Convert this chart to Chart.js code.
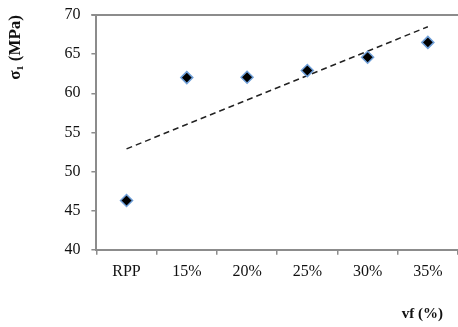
<!DOCTYPE html>
<html>
<head>
<meta charset="utf-8">
<script src="https://cdn.jsdelivr.net/npm/chart.js@4.4.1/dist/chart.umd.min.js"></script>
<style>
    html, body { margin: 0; padding: 0; background: #ffffff; }
    #wrap { width: 458px; height: 327px; }
</style>
</head>
<body>
<div id="wrap"><canvas id="chart"></canvas></div>
<script>
'use strict';

// ── Data ─────────────────────────────────────────────────────────────────────
var categories  = ['RPP', '15%', '20%', '25%', '30%', '35%'];
var sigmaValues = [46.3, 62.0, 62.05, 62.9, 64.6, 66.5];
var trendValues = [52.9, null, null, null, null, 68.5];   // linear trend, ends only
var yTicks      = [40, 45, 50, 55, 60, 65, 70];

var AXIS_GREY = '#8c8c8c';
var SERIF     = "'Liberation Serif', 'Times New Roman', serif";

// top frame line of the plot area
var topFrame = {
    id: 'topFrame',
    afterDraw: function (chart) {
        var a = chart.chartArea, ctx = chart.ctx;
        ctx.save();
        ctx.strokeStyle = AXIS_GREY;
        ctx.lineWidth = 2;
        ctx.beginPath();
        ctx.moveTo(a.left - 5, a.top);
        ctx.lineTo(a.right, a.top);
        ctx.stroke();
        ctx.restore();
    }
};

new Chart(document.getElementById('chart').getContext('2d'), {
    type: 'line',
    data: {
        labels: categories,
        datasets: [
            {
                label: 'sigma',
                data: sigmaValues,
                showLine: false,
                pointStyle: 'rectRot',
                pointRadius: 6,
                pointBackgroundColor: '#000000',
                pointBorderColor: '#6f9fd8',
                pointBorderWidth: 1.5,
                order: 0
            },
            {
                label: 'trend',
                data: trendValues,
                spanGaps: true,
                borderColor: '#222222',
                borderWidth: 1.5,
                borderDash: [6, 4],
                pointRadius: 0,
                order: 1
            }
        ]
    },
    plugins: [topFrame],
    options: {
        responsive: true,
        maintainAspectRatio: false,
        animation: false,
        layout: { autoPadding: false, padding: { left: 5, right: 0, top: 15, bottom: 4 } },
        plugins: {
            legend: { display: false },
            tooltip: { enabled: false }
        },
        scales: {
            x: {
                offset: true,
                afterFit: function (axis) { axis.paddingRight = 0; },
                grid: { offset: true, drawOnChartArea: false, color: AXIS_GREY, tickLength: 5, lineWidth: 1.5 },
                border: { color: AXIS_GREY, width: 2 },
                ticks: { color: '#111', padding: 7, font: { family: SERIF, size: 16 } },
                title: {
                    display: true,
                    text: 'vf (%)\u2003',
                    align: 'end',
                    color: '#111',
                    padding: { top: 17, bottom: 0 },
                    font: { family: SERIF, size: 15, weight: 'bold' }
                }
            },
            y: {
                min: 40,
                max: 70,
                afterBuildTicks: function (axis) {
                    axis.ticks = yTicks.map(function (v) { return { value: v }; });
                },
                afterFit: function (axis) { axis.paddingTop = 0; },
                grid: { drawOnChartArea: false, color: AXIS_GREY, tickLength: 5, lineWidth: 1.5 },
                border: { color: AXIS_GREY, width: 2 },
                ticks: { color: '#111', padding: 11, font: { family: SERIF, size: 16 } },
                title: {
                    display: true,
                    text: 'σ\u2081 (MPa)',
                    align: 'end',
                    color: '#111',
                    padding: { top: 0, bottom: 28 },
                    font: { family: SERIF, size: 17, weight: 'bold' }
                }
            }
        }
    }
});
</script>
</body>
</html>
